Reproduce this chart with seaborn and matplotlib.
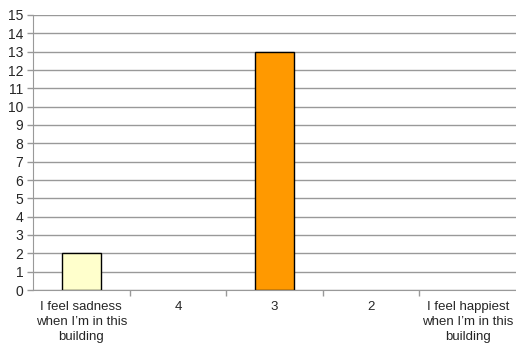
import matplotlib
matplotlib.use('Agg')
import matplotlib.pyplot as plt
import seaborn as sns
import pandas as pd
import numpy as np

categories = ["I feel sadness\nwhen I\u2019m in this\nbuilding", "4", "3", "2",
              "I feel happiest\nwhen I\u2019m in this\nbuilding"]
counts = [2, 0, 13, 0, 0]
bar_colors = ["#FFFFCC", "#FFFFCC", "#FF9900", "#FF9900", "#FF9900"]

df = pd.DataFrame({"category": categories, "count": counts})

sns.set_style("white")
plt.rcParams['font.family'] = ['Liberation Sans', 'DejaVu Sans']

fig = plt.figure(figsize=(5.16, 3.47), dpi=100)
ax = fig.add_axes([33 / 516, 1 - 290 / 347, 483 / 516, 275 / 347])

sns.barplot(data=df, x="category", y="count", hue="category", palette=bar_colors,
            saturation=1, width=0.4, edgecolor="black", linewidth=1,
            legend=False, ax=ax)

# hide outlines of empty bars
for p in ax.patches:
    if p.get_height() == 0:
        p.set_visible(False)

ax.set_xlim(-0.5, 4.5)
ax.set_ylim(0, 15)
ax.set_yticks(range(0, 16))
ax.yaxis.grid(True, color="#999999", linewidth=1)
ax.set_axisbelow(True)
ax.set_xlabel("")
ax.set_ylabel("")

for side in ["top", "right"]:
    ax.spines[side].set_visible(False)
ax.spines["left"].set_color("#999999")
ax.spines["bottom"].set_color("#999999")

ax.set_xticks(np.arange(0.5, 4.5, 1), minor=True)
ax.tick_params(axis="x", which="major", length=0, pad=8, labelsize=9.5)
ax.tick_params(axis="x", which="minor", bottom=True, length=4, width=1,
               color="#999999", direction="out")
ax.tick_params(axis="y", length=4, width=1, color="#999999", direction="out",
               labelsize=10, left=True, pad=3)
for lbl in ax.get_xticklabels():
    lbl.set_linespacing(1.35)

plt.savefig("out.png", dpi=100)
plt.close()
